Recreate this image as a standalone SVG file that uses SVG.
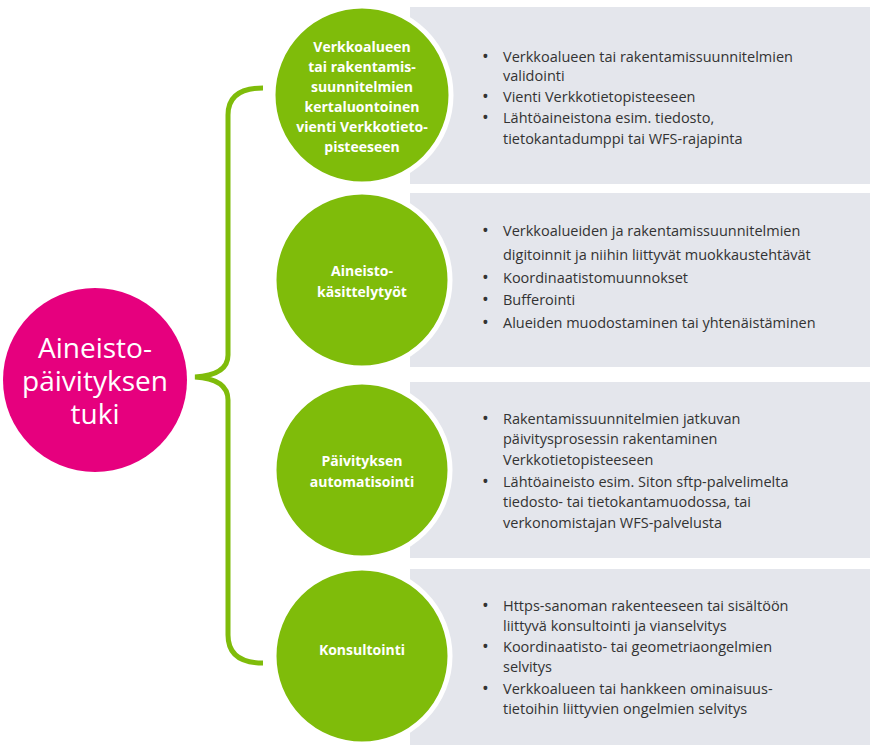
<svg xmlns="http://www.w3.org/2000/svg" width="878" height="753" viewBox="0 0 878 753">
<style>
.panel{fill:#e4e6ec}
.gc{fill:#7fbc0a;stroke:#fff;stroke-width:5}
.gt{font-family:"Open Sans","Liberation Sans",sans-serif;font-weight:bold;font-size:14px;fill:#fff;text-anchor:middle}
.bt{font-family:"Open Sans","Liberation Sans",sans-serif;font-size:14.5px;fill:#333}
.bu{font-size:18px}
.pt{font-family:"Open Sans","Liberation Sans",sans-serif;font-size:28px;fill:#fff;text-anchor:middle}
</style>
<rect width="878" height="753" fill="#fff"/>
<g id="panels">
<rect class="panel" x="410" y="7" width="460" height="177"/>
<rect class="panel" x="410" y="193" width="460" height="174"/>
<rect class="panel" x="410" y="382" width="460" height="176"/>
<rect class="panel" x="410" y="569" width="460" height="176"/>
</g>
<g id="connectors">
<path d="M263,88 Q228,88 228,115 L228,355 Q228,375 195,377 Q228,379 228,400 L228,635 Q228,663 263,663" fill="none" stroke="#7fbc0a" stroke-width="5"/>
</g>
<g id="root">
<circle cx="95" cy="380" r="92" fill="#e6007e"/>
<text class="pt" x="95" y="358">Aineisto-</text>
<text class="pt" x="95" y="391">päivityksen</text>
<text class="pt" x="95" y="424">tuki</text>
</g>
<g id="n1">
<circle class="gc" cx="362" cy="95" r="89"/>
<text class="gt"><tspan x="362" y="52">Verkkoalueen</tspan><tspan x="362" y="72">tai rakentamis-</tspan><tspan x="362" y="92">suunnitelmien</tspan><tspan x="362" y="112">kertaluontoinen</tspan><tspan x="362" y="132">vienti Verkkotieto-</tspan><tspan x="362" y="152">pisteeseen</tspan></text>
<text class="bt"><tspan class="bu" x="482" y="63">•</tspan><tspan x="503" y="62">Verkkoalueen tai rakentamissuunnitelmien</tspan><tspan x="503" y="81">validointi</tspan><tspan class="bu" x="482" y="103">•</tspan><tspan x="503" y="102">Vienti Verkkotietopisteeseen</tspan><tspan class="bu" x="482" y="124">•</tspan><tspan x="503" y="123">Lähtöaineistona esim. tiedosto,</tspan><tspan x="503" y="144">tietokantadumppi tai WFS-rajapinta</tspan></text>
</g>
<g id="n2">
<circle class="gc" cx="362" cy="280" r="88"/>
<text class="gt"><tspan x="362" y="276">Aineisto-</tspan><tspan x="362" y="297">käsittelytyöt</tspan></text>
<text class="bt"><tspan class="bu" x="482" y="237">•</tspan><tspan x="503" y="236">Verkkoalueiden ja rakentamissuunnitelmien</tspan><tspan x="503" y="260">digitoinnit ja niihin liittyvät muokkaustehtävät</tspan><tspan class="bu" x="482" y="284">•</tspan><tspan x="503" y="283">Koordinaatistomuunnokset</tspan><tspan class="bu" x="482" y="306">•</tspan><tspan x="503" y="305">Bufferointi</tspan><tspan class="bu" x="482" y="329">•</tspan><tspan x="503" y="328">Alueiden muodostaminen tai yhtenäistäminen</tspan></text>
</g>
<g id="n3">
<circle class="gc" cx="362" cy="470" r="88"/>
<text class="gt"><tspan x="362" y="466">Päivityksen</tspan><tspan x="362" y="487">automatisointi</tspan></text>
<text class="bt"><tspan class="bu" x="482" y="425">•</tspan><tspan x="503" y="424">Rakentamissuunnitelmien jatkuvan</tspan><tspan x="503" y="444">päivitysprosessin rakentaminen</tspan><tspan x="503" y="465">Verkkotietopisteeseen</tspan><tspan class="bu" x="482" y="488">•</tspan><tspan x="503" y="487">Lähtöaineisto esim. Siton sftp-palvelimelta</tspan><tspan x="503" y="507">tiedosto- tai tietokantamuodossa, tai</tspan><tspan x="503" y="528">verkonomistajan WFS-palvelusta</tspan></text>
</g>
<g id="n4">
<circle class="gc" cx="362" cy="656" r="88"/>
<text class="gt"><tspan x="362" y="655">Konsultointi</tspan></text>
<text class="bt"><tspan class="bu" x="482" y="612">•</tspan><tspan x="503" y="611">Https-sanoman rakenteeseen tai sisältöön</tspan><tspan x="503" y="631">liittyvä konsultointi ja vianselvitys</tspan><tspan class="bu" x="482" y="653">•</tspan><tspan x="503" y="652">Koordinaatisto- tai geometriaongelmien</tspan><tspan x="503" y="672">selvitys</tspan><tspan class="bu" x="482" y="695">•</tspan><tspan x="503" y="694">Verkkoalueen tai hankkeen ominaisuus-</tspan><tspan x="503" y="714">tietoihin liittyvien ongelmien selvitys</tspan></text>
</g>
</svg>
